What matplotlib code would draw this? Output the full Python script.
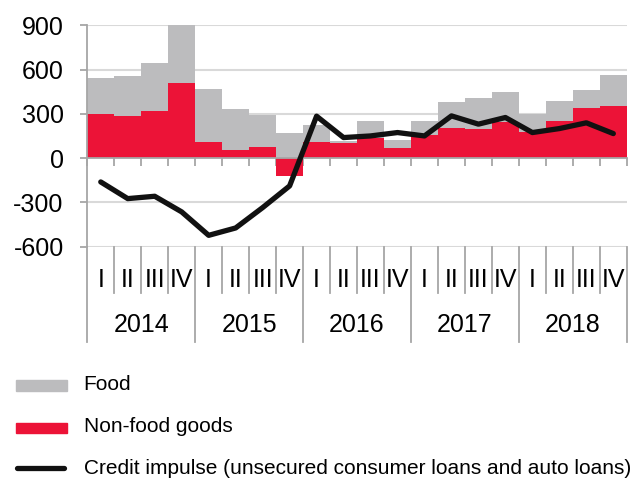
import matplotlib
matplotlib.use("Agg")
import matplotlib.pyplot as plt
import numpy as np
from matplotlib.lines import Line2D
from matplotlib.patches import Rectangle

plt.rcParams['font.family'] = ['Liberation Sans', 'DejaVu Sans']

years = ['2014', '2015', '2016', '2017', '2018']
quarters = ['I', 'II', 'III', 'IV']
nonfood = [299, 285, 319, 511, 113, 59, 77, -120, 111, 104, 140, 72, 156, 208, 201, 243, 180, 252, 342, 354]
food = [246, 274, 324, 429, 357, 274, 219, 174, 113, 14, 113, 53, 97, 170, 204, 209, 123, 139, 119, 209]
credit = [-161, -274, -258, -364, -523, -473, -335, -188, 285, 140, 151, 174, 151, 287, 231, 276, 174, 201, 240, 167]
yticks = [-600, -300, 0, 300, 600, 900]

RED = '#EC1337'
GRAY = '#BCBCBE'
AXC = '#A6A6A6'
GRID = '#D9D9D9'
FS = 18

fig = plt.figure(figsize=(6.37, 4.78), dpi=100)
ax = fig.add_axes([0.137, 0.4839, 0.984 - 0.137, 0.9467 - 0.4839])

n = len(nonfood)
x = np.arange(n)
nf = np.array(nonfood)
fd = np.array(food)
food_bottom = np.where(nf > 0, nf, 0)

ax.bar(x, nf, width=1.0, color=RED, zorder=2, linewidth=0)
ax.bar(x, fd, width=1.0, bottom=food_bottom, color=GRAY, zorder=2, linewidth=0)
ax.plot(x, credit, color='#111111', lw=3.8, zorder=4, solid_capstyle='round', solid_joinstyle='round')

ax.set_xlim(-0.5, n - 0.5)
ax.set_ylim(-600, 900)
ax.set_yticks(yticks)
ax.set_yticklabels([str(v) for v in yticks], fontsize=FS)
for v in yticks:
    if v != 0:
        ax.axhline(v, color=GRID, lw=1.5, zorder=1)

for s in ['top', 'right']:
    ax.spines[s].set_visible(False)
ax.spines['left'].set_color(AXC)
ax.spines['left'].set_linewidth(1.3)
ax.spines['bottom'].set_position(('data', 0))
ax.spines['bottom'].set_color(AXC)
ax.spines['bottom'].set_linewidth(1.3)
ax.spines['bottom'].set_zorder(3)
ax.set_xticks(np.arange(-0.5, n, 1.0))
ax.set_xticklabels([])
ax.tick_params(axis='x', direction='out', length=5.5, width=1.3, color=AXC)
ax.tick_params(axis='y', direction='out', length=5, width=1.3, color=AXC, pad=12)

tr = ax.get_xaxis_transform()
for i in range(n + 1):
    b = i - 0.5
    if i % 4 == 0:
        ax.plot([b, b], [0, -0.431], color=AXC, lw=1.3, transform=tr, clip_on=False)
    else:
        ax.plot([b, b], [0, -0.2107], color=AXC, lw=1.3, transform=tr, clip_on=False)
for i in range(n):
    ax.text(i, -0.1505, quarters[i % 4], transform=tr, ha='center', va='center', fontsize=FS)
for j, yr in enumerate(years):
    ax.text(4 * j + 1.5, -0.354, yr, transform=tr, ha='center', va='center', fontsize=FS)

W, H = 637.0, 478.0
def fy(py):
    return 1 - py / H
fig.patches.append(Rectangle((16 / W, fy(391)), 50.5 / W, 11 / H, transform=fig.transFigure, color=GRAY))
fig.patches.append(Rectangle((16 / W, fy(433)), 50.5 / W, 10.5 / H, transform=fig.transFigure, color=RED))
fig.lines.append(Line2D([17 / W, 64 / W], [fy(468), fy(468)], transform=fig.transFigure,
                        color='#111111', lw=3.8, solid_capstyle='round'))
fig.text(83.5 / W, fy(385), 'Food', fontsize=15, va='center', ha='left')
fig.text(83.5 / W, fy(427), 'Non-food goods', fontsize=15, va='center', ha='left')
fig.text(83.5 / W, fy(468), 'Credit impulse (unsecured consumer loans and auto loans)', fontsize=15, va='center', ha='left')

fig.savefig('out.png', dpi=100)
